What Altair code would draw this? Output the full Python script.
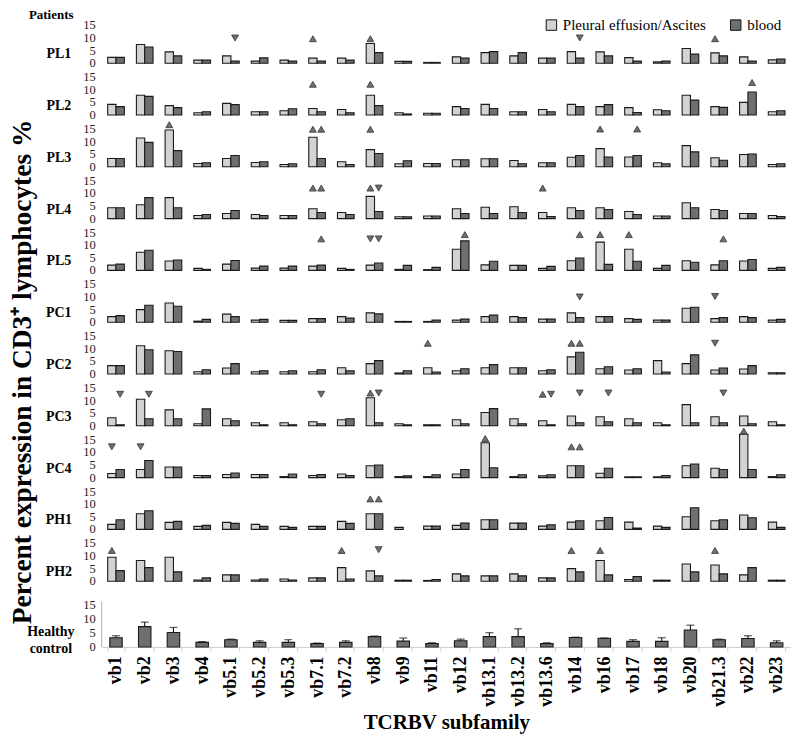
import altair as alt
import pandas as pd

SERIF = "Liberation Serif"

cats = ["vb1", "vb2", "vb3", "vb4", "vb5.1", "vb5.2", "vb5.3", "vb7.1", "vb7.2", "vb8",
        "vb9", "vb11", "vb12", "vb13.1", "vb13.2", "vb13.6", "vb14", "vb16", "vb17",
        "vb18", "vb20", "vb21.3", "vb22", "vb23"]
series = ["Pleural effusion/Ascites", "blood"]
rows = ["PL1", "PL2", "PL3", "PL4", "PL5", "PC1", "PC2", "PC3", "PC4", "PH1", "PH2"]
y_ticks = [0, 5, 10, 15]

PL1_fluid = [2.3, 7.4, 4.5, 1.2, 2.9, 0.8, 1.2, 2.0, 2.0, 7.8, 0.7, 0.3, 2.5, 4.2, 2.9, 2.0, 4.6, 4.5, 2.2, 0.5, 5.8, 4.1, 2.5, 1.3]
PL1_blood = [2.3, 6.4, 2.9, 1.2, 0.8, 2.1, 0.8, 0.8, 1.2, 4.2, 0.7, 0.3, 2.0, 4.6, 4.2, 2.0, 2.0, 2.9, 0.8, 0.8, 3.6, 2.9, 0.8, 1.6]
PL2_fluid = [4.2, 7.8, 3.7, 0.9, 4.6, 1.3, 1.7, 2.6, 2.2, 7.8, 0.9, 0.7, 3.3, 4.2, 1.3, 2.2, 4.2, 3.3, 2.9, 2.1, 7.8, 3.3, 5.0, 1.3]
PL2_blood = [3.3, 7.4, 2.9, 1.3, 4.1, 1.3, 2.5, 1.3, 0.9, 3.7, 0.4, 0.7, 2.6, 2.6, 1.3, 1.3, 3.3, 4.1, 1.0, 1.7, 5.9, 3.0, 9.1, 1.7]
PL3_fluid = [3.3, 11.4, 14.6, 1.3, 3.3, 1.7, 0.9, 11.7, 2.0, 6.8, 1.2, 1.3, 2.8, 3.2, 2.5, 1.6, 3.8, 7.2, 3.9, 1.6, 8.4, 3.6, 4.9, 0.9]
PL3_blood = [3.3, 9.7, 6.4, 1.6, 4.5, 2.0, 1.2, 3.3, 0.9, 5.3, 2.4, 1.3, 2.8, 3.2, 1.2, 1.6, 4.5, 3.9, 4.5, 1.2, 5.9, 2.6, 5.1, 1.2]
PL4_fluid = [4.3, 5.5, 8.3, 1.2, 2.0, 1.6, 1.2, 3.9, 2.4, 8.8, 0.7, 1.0, 3.9, 4.5, 4.7, 2.4, 4.3, 4.3, 2.8, 1.0, 6.3, 3.6, 2.0, 1.2]
PL4_blood = [4.3, 8.3, 4.3, 1.6, 3.2, 1.2, 1.2, 2.4, 1.6, 2.8, 0.7, 1.0, 2.0, 2.0, 2.4, 0.8, 3.2, 3.6, 1.6, 1.0, 4.3, 3.2, 2.0, 0.8]
PL5_fluid = [2.1, 7.2, 3.7, 0.8, 2.5, 0.9, 0.9, 1.7, 0.8, 2.1, 0.4, 0.3, 8.4, 2.2, 2.0, 0.8, 3.8, 11.2, 8.4, 0.8, 3.8, 2.2, 3.7, 0.8]
PL5_blood = [2.5, 8.0, 4.1, 0.4, 3.9, 1.7, 1.7, 2.1, 0.4, 2.9, 2.0, 1.2, 11.7, 3.6, 2.0, 1.6, 4.9, 2.4, 3.6, 2.0, 3.2, 3.8, 4.3, 1.2]
PC1_fluid = [2.2, 5.0, 7.6, 0.4, 3.2, 0.8, 0.7, 1.4, 2.2, 3.7, 0.3, 0.3, 0.8, 2.2, 2.2, 1.2, 3.7, 2.2, 1.4, 0.8, 5.5, 1.4, 2.2, 0.8]
PC1_blood = [2.6, 6.7, 6.3, 1.1, 2.2, 1.1, 0.7, 1.4, 1.6, 3.3, 0.3, 0.8, 1.2, 2.8, 1.8, 1.2, 1.8, 2.2, 1.1, 0.8, 5.9, 1.8, 1.8, 1.1]
PC2_fluid = [3.3, 11.2, 9.2, 0.9, 2.4, 0.9, 0.9, 0.9, 2.5, 4.1, 0.4, 2.5, 1.3, 2.5, 2.5, 1.3, 6.8, 2.1, 1.6, 5.3, 4.1, 1.6, 2.0, 0.5]
PC2_blood = [3.3, 9.6, 8.9, 1.7, 4.1, 1.3, 1.3, 1.7, 1.3, 5.3, 1.3, 0.8, 2.1, 3.7, 2.5, 1.7, 8.6, 2.9, 2.1, 0.8, 7.6, 2.4, 3.3, 0.5]
PC3_fluid = [3.2, 10.5, 6.3, 0.8, 2.8, 1.2, 1.2, 1.6, 2.4, 11.1, 0.8, 0.4, 2.4, 5.3, 2.8, 2.0, 3.9, 3.6, 2.8, 1.2, 8.4, 3.6, 3.9, 1.6]
PC3_blood = [0.4, 2.8, 2.8, 6.7, 2.0, 0.4, 0.4, 0.8, 2.8, 1.2, 0.4, 0.4, 0.8, 6.8, 0.8, 0.4, 1.2, 1.6, 1.2, 0.4, 1.2, 1.2, 0.8, 0.4]
PC4_fluid = [1.6, 3.2, 4.2, 0.8, 1.2, 1.2, 0.4, 0.8, 1.4, 4.7, 0.4, 0.4, 1.4, 13.8, 0.4, 0.7, 4.7, 1.7, 0.3, 0.3, 4.7, 3.7, 17.2, 0.4]
PC4_blood = [3.2, 6.8, 4.2, 0.8, 1.8, 1.2, 1.4, 1.2, 0.8, 5.0, 0.7, 1.1, 3.2, 3.9, 1.1, 1.1, 4.7, 3.7, 0.3, 0.8, 5.4, 3.2, 3.2, 1.1]
PH1_fluid = [2.0, 6.2, 2.8, 1.2, 2.8, 2.0, 1.2, 1.2, 3.2, 6.2, 0.8, 1.3, 1.6, 3.8, 2.5, 1.3, 2.9, 3.4, 2.9, 1.3, 5.0, 3.4, 5.7, 2.9]
PH1_blood = [3.8, 7.4, 3.2, 1.6, 2.4, 1.2, 0.8, 1.2, 2.4, 6.2, 0.0, 1.3, 2.5, 3.8, 2.5, 1.8, 3.4, 4.7, 0.5, 0.8, 8.6, 3.8, 4.6, 0.8]
PH2_fluid = [9.5, 8.2, 9.5, 0.5, 2.5, 0.5, 0.9, 1.3, 5.4, 4.1, 0.4, 0.3, 2.9, 2.1, 2.9, 1.3, 5.0, 8.2, 0.7, 0.4, 6.8, 6.4, 2.5, 0.4]
PH2_blood = [4.2, 5.4, 3.7, 1.3, 2.5, 0.9, 0.5, 1.3, 0.9, 2.1, 0.4, 0.7, 2.1, 2.1, 2.1, 1.3, 3.7, 2.5, 1.8, 0.4, 3.7, 2.9, 5.4, 0.4]

# significance markers: (subfamily, series, direction, level)
PL1_marks = [("vb5.1", "blood", "down", 10.0), ("vb7.1", "Pleural effusion/Ascites", "up", 9.7),
             ("vb8", "Pleural effusion/Ascites", "up", 9.7), ("vb14", "blood", "down", 10.0),
             ("vb21.3", "Pleural effusion/Ascites", "up", 9.7)]
PL2_marks = [("vb7.1", "Pleural effusion/Ascites", "up", 12.2), ("vb8", "Pleural effusion/Ascites", "up", 12.2),
             ("vb22", "blood", "up", 12.9)]
PL3_marks = [("vb3", "Pleural effusion/Ascites", "up", 16.7), ("vb7.1", "Pleural effusion/Ascites", "up", 14.9),
             ("vb7.1", "blood", "up", 14.9), ("vb8", "Pleural effusion/Ascites", "up", 14.9),
             ("vb16", "Pleural effusion/Ascites", "up", 15.0), ("vb17", "blood", "up", 15.0)]
PL4_marks = [("vb7.1", "Pleural effusion/Ascites", "up", 12.1), ("vb7.1", "blood", "up", 12.1),
             ("vb8", "Pleural effusion/Ascites", "up", 12.1), ("vb8", "blood", "down", 12.1),
             ("vb13.6", "Pleural effusion/Ascites", "up", 12.1)]
PL5_marks = [("vb7.1", "blood", "up", 12.5), ("vb8", "Pleural effusion/Ascites", "down", 12.5),
             ("vb8", "blood", "down", 12.5), ("vb12", "blood", "up", 14.2), ("vb14", "blood", "up", 14.2),
             ("vb16", "Pleural effusion/Ascites", "up", 14.2), ("vb17", "Pleural effusion/Ascites", "up", 14.2),
             ("vb21.3", "blood", "up", 12.5)]
PC1_marks = [("vb14", "blood", "down", 10.0), ("vb21.3", "Pleural effusion/Ascites", "down", 10.2)]
PC2_marks = [("vb11", "Pleural effusion/Ascites", "up", 12.2), ("vb14", "Pleural effusion/Ascites", "up", 12.2),
             ("vb14", "blood", "up", 12.2), ("vb21.3", "Pleural effusion/Ascites", "down", 12.2)]
PC3_marks = [("vb1", "blood", "down", 12.5), ("vb2", "blood", "down", 12.5), ("vb7.1", "blood", "down", 12.5),
             ("vb8", "Pleural effusion/Ascites", "up", 13.0), ("vb8", "blood", "down", 13.0),
             ("vb13.6", "Pleural effusion/Ascites", "up", 12.5), ("vb13.6", "blood", "down", 12.5),
             ("vb14", "blood", "down", 13.0), ("vb16", "blood", "down", 13.0), ("vb21.3", "blood", "down", 13.0)]
PC4_marks = [("vb1", "Pleural effusion/Ascites", "down", 12.2), ("vb2", "Pleural effusion/Ascites", "down", 12.2),
             ("vb13.1", "Pleural effusion/Ascites", "up", 15.5), ("vb14", "Pleural effusion/Ascites", "up", 12.2),
             ("vb14", "blood", "up", 12.2), ("vb22", "Pleural effusion/Ascites", "up", 18.5)]
PH1_marks = [("vb8", "Pleural effusion/Ascites", "up", 12.1), ("vb8", "blood", "up", 12.1)]
PH2_marks = [("vb1", "Pleural effusion/Ascites", "up", 12.2), ("vb7.2", "Pleural effusion/Ascites", "up", 12.2),
             ("vb8", "blood", "down", 12.5), ("vb14", "Pleural effusion/Ascites", "up", 12.2),
             ("vb16", "Pleural effusion/Ascites", "up", 12.2), ("vb21.3", "Pleural effusion/Ascites", "up", 12.2)]

healthy_mean = [3.3, 7.3, 5.2, 1.65, 2.6, 1.65, 1.65, 1.2, 1.65, 3.7, 2.1, 1.2, 2.2, 3.7, 3.7, 1.2, 3.4, 3.1, 2.0, 2.0, 6.1, 2.6, 3.0, 1.5]
healthy_upper = [4.0, 8.9, 7.0, 1.9, 2.8, 2.2, 2.6, 1.4, 2.2, 3.9, 3.2, 1.5, 2.8, 5.1, 6.5, 1.5, 3.5, 3.2, 2.6, 3.3, 7.8, 2.8, 4.0, 2.2]

fluid = {"PL1": PL1_fluid, "PL2": PL2_fluid, "PL3": PL3_fluid, "PL4": PL4_fluid, "PL5": PL5_fluid,
         "PC1": PC1_fluid, "PC2": PC2_fluid, "PC3": PC3_fluid, "PC4": PC4_fluid, "PH1": PH1_fluid, "PH2": PH2_fluid}
blood = {"PL1": PL1_blood, "PL2": PL2_blood, "PL3": PL3_blood, "PL4": PL4_blood, "PL5": PL5_blood,
         "PC1": PC1_blood, "PC2": PC2_blood, "PC3": PC3_blood, "PC4": PC4_blood, "PH1": PH1_blood, "PH2": PH2_blood}
marks = {"PL1": PL1_marks, "PL2": PL2_marks, "PL3": PL3_marks, "PL4": PL4_marks, "PL5": PL5_marks,
         "PC1": PC1_marks, "PC2": PC2_marks, "PC3": PC3_marks, "PC4": PC4_marks, "PH1": PH1_marks, "PH2": PH2_marks}

W = 692
PX_PER_UNIT = 2.53
LIGHT, DARK = "#d3d3d3", "#6f6f6f"


def xscale():
    return alt.Scale(domain=cats, paddingInner=0.42, paddingOuter=0.21)


def offscale():
    return alt.Scale(domain=series, paddingInner=0, paddingOuter=0)


def yaxis(domain=True):
    return alt.Axis(values=y_ticks, labels=False, title=None, tickSize=4, tickColor="#b0b0b0",
                    domainColor="#b0b0b0", domain=domain, grid=False)


def tick_labels(ysc):
    return alt.Chart(pd.DataFrame({"v": y_ticks})).mark_text(
        align="right", baseline="middle", font=SERIF, fontSize=12.5, color="#222").encode(
        x=alt.value(-6), y=alt.Y("v:Q", scale=ysc, axis=None), text=alt.Text("v:Q"))


def row_label(lines, x, y):
    return alt.Chart(pd.DataFrame({"t": [lines]})).mark_text(
        align="center", baseline="middle", font=SERIF, fontWeight="bold", fontSize=14,
        lineHeight=17, color="#000").encode(text="t", x=alt.value(x), y=alt.value(y))


legend = alt.Legend(orient="none", legendX=444, legendY=1, direction="horizontal", title=None,
                    symbolType="square", symbolSize=110, symbolStrokeColor="#111",
                    symbolStrokeWidth=1, labelFont=SERIF, labelFontSize=15, labelColor="#000",
                    columnPadding=22, labelOffset=4)


def patient_chart(name, i):
    first = i == 0
    h = 47 if first else 52
    top = h / PX_PER_UNIT
    ysc = alt.Scale(domain=[0, top], nice=False, zero=True)
    n = len(cats)
    df = pd.DataFrame({"cat": cats * 2, "series": [series[0]] * n + [series[1]] * n,
                       "value": fluid[name] + blood[name]})
    df = df[df["value"] > 0]
    bars = alt.Chart(df).mark_bar(stroke="#1a1a1a", strokeWidth=1.1).encode(
        x=alt.X("cat:N", scale=xscale(), axis=None),
        xOffset=alt.XOffset("series:N", scale=offscale()),
        y=alt.Y("value:Q", scale=ysc, axis=yaxis()),
        color=alt.Color("series:N", scale=alt.Scale(domain=series, range=[LIGHT, DARK]), legend=legend),
    )
    mdf = pd.DataFrame(marks[name], columns=["cat", "series", "dir", "level"])
    mdf["shape"] = mdf["dir"].map({"up": "triangle-up", "down": "triangle-down"})
    pts = alt.Chart(mdf).mark_point(filled=True, size=48, color="#6f6f6f", stroke="#333",
                                    strokeWidth=0.8, opacity=1).encode(
        x=alt.X("cat:N", scale=xscale(), axis=None),
        xOffset=alt.XOffset("series:N", scale=offscale()),
        y=alt.Y("level:Q", scale=ysc, axis=None),
        shape=alt.Shape("shape:N", scale=None),
    )
    layers = [bars, pts, tick_labels(ysc), row_label(name, -43, h - 9)]
    if first:
        layers.append(alt.Chart(pd.DataFrame({"t": ["Patients"]})).mark_text(
            align="left", baseline="top", font=SERIF, fontWeight="bold", fontSize=13, color="#000").encode(
            text="t:N", x=alt.value(-73), y=alt.value(-7)))
    if name == "PC1":
        layers.append(alt.Chart(pd.DataFrame({"t": ["Percent expression in CD3\u207a lymphocytes %"]})).mark_text(
            angle=270, align="center", baseline="middle", font=SERIF, fontWeight="bold", fontSize=27.5,
            color="#000").encode(text="t:N", x=alt.value(-79), y=alt.value(102)))
    return alt.layer(*layers).properties(width=W, height=h)


charts = [patient_chart(r, i) for i, r in enumerate(rows)]

# healthy control
HP = 2.8
hh = 66
hsc = alt.Scale(domain=[0, hh / HP], nice=False, zero=True)
hdf = pd.DataFrame({"cat": cats, "mean": healthy_mean, "upper": healthy_upper})
hx_axis = alt.Axis(labelAngle=-90, labelFont=SERIF, labelFontSize=18, labelFontWeight="bold",
                   labelColor="#000", labelPadding=5, title="TCRBV subfamily", titleFont=SERIF,
                   titleFontSize=21, titleFontWeight="bold", titleColor="#000", titlePadding=5,
                   domainColor="#cfcfcf", tickColor="#cfcfcf", tickBand="extent", tickSize=4)
hbars = alt.Chart(hdf).mark_bar(width=12.5, color=DARK, stroke="#1a1a1a", strokeWidth=1.1).encode(
    x=alt.X("cat:N", scale=xscale(), axis=hx_axis),
    y=alt.Y("mean:Q", scale=hsc, axis=yaxis(domain=False)),
)
herr = alt.Chart(hdf).mark_rule(color="#111", strokeWidth=1.1).encode(
    x=alt.X("cat:N", scale=xscale()), y=alt.Y("mean:Q", scale=hsc, axis=None), y2="upper:Q")
hcap = alt.Chart(hdf).mark_tick(color="#111", size=8, thickness=1.2).encode(
    x=alt.X("cat:N", scale=xscale()), y=alt.Y("upper:Q", scale=hsc, axis=None))
hline = alt.Chart(pd.DataFrame({"a": [0.0], "b": [16.3]})).mark_rule(color="#b0b0b0").encode(
    x=alt.value(0), y=alt.Y("a:Q", scale=hsc, axis=None), y2="b:Q")
healthy = alt.layer(hbars, herr, hcap, hline, tick_labels(hsc),
                    row_label(["Healthy", "control"], -51, 51)).properties(width=W, height=hh)

charts.append(healthy)

chart = alt.vconcat(*charts, spacing=0, bounds="flush").resolve_scale(
    y="independent", x="independent"
).properties(padding=0).configure(font=SERIF).configure_view(stroke=None)

chart.save("out.html", embed_options={"renderer": "svg", "actions": False})
